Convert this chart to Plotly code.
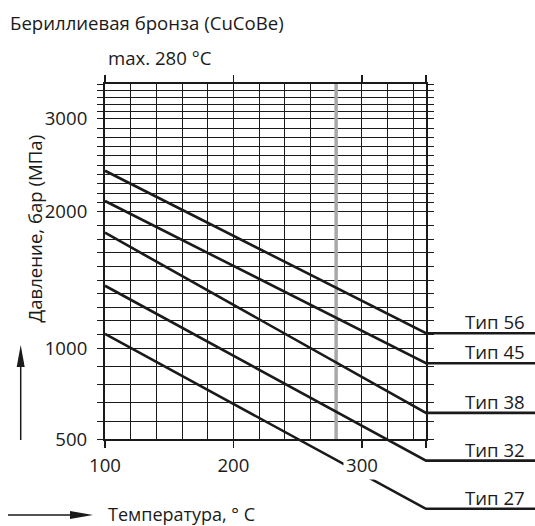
import numpy as np
import plotly.graph_objects as go

# ---------------- data ----------------
TYPES = ["Тип 56", "Тип 45", "Тип 38", "Тип 32", "Тип 27"]
TEMP_ENDS = [100, 350]                      # °C, ends of each straight line
P_AT_100 = [2440, 2115, 1846, 1458, 1105]   # bar at 100 °C
P_AT_350 = [1110, 918, 645, 383, 118]       # bar at 350 °C (32/27 run below the scale)
MAX_TEMP = 280

X_TICKS = [100, 200, 300]
X_MINOR = list(range(120, 350, 20))
Y_TICKS = [500, 1000, 2000, 3000]
Y_MINOR = (list(range(600, 1000, 100)) + list(range(1100, 2000, 100))
           + list(range(2100, 3000, 100)) + list(range(3100, 3600, 100)))

# printed pressure scale of the original chart (piecewise linear between labelled values)
SCALE_P = [500, 1000, 2000, 3000, 3500]
SCALE_U = [0.0, 91.0, 227.6, 320.6, 355.3]


def yscale(p):
    p = np.asarray(p, dtype=float)
    u = np.interp(p, SCALE_P, SCALE_U)
    slope0 = (SCALE_U[1] - SCALE_U[0]) / (SCALE_P[1] - SCALE_P[0])
    return np.where(p < SCALE_P[0], SCALE_U[0] + (p - SCALE_P[0]) * slope0, u)


# ---------------- geometry ----------------
W, H = 535, 526
PX_L, PX_R, PX_T, PX_B = 105, 426, 84, 439.3
INK = "#1a1a1a"
FONT = "Open Sans"
FS = 18.6

xr = [100, 350]
yr = [float(yscale(500)), float(yscale(3500))]
kx = (PX_R - PX_L) / (xr[1] - xr[0])
ky = (PX_B - PX_T) / (yr[1] - yr[0])
x2r = [xr[0] - PX_L / kx, xr[0] + (W - PX_L) / kx]
y2r = [yr[0] - (H - PX_B) / ky, yr[1] + PX_T / ky]


def px(x):
    return x / W


def py(y):
    return 1 - y / H


fig = go.Figure()

# max temperature line
fig.add_trace(go.Scatter(x=[MAX_TEMP, MAX_TEMP], y=yscale([500, 3500]), mode="lines",
                         line=dict(color="#a9a9a9", width=3.5), xaxis="x", yaxis="y",
                         showlegend=False, hoverinfo="skip"))

# type lines (drawn on a full-figure second subplot with the same scale, so they can leave the grid)
for name, p0, p1 in zip(TYPES, P_AT_100, P_AT_350):
    ys = yscale([p0, p1])
    fig.add_trace(go.Scatter(x=[TEMP_ENDS[0], TEMP_ENDS[1], x2r[1]],
                             y=[ys[0], ys[1], ys[1]], mode="lines",
                             line=dict(color=INK, width=2.6), xaxis="x2", yaxis="y2",
                             showlegend=False, name=name))

annotations = []
for name, p1 in zip(TYPES, P_AT_350):
    annotations.append(dict(x=px(527), xref="paper", xanchor="right",
                            y=float(yscale(p1)), yref="y2", yanchor="bottom", yshift=-3,
                            text=name, showarrow=False, font=dict(size=FS, color=INK, family=FONT)))

annotations += [
    dict(x=300, xref="x", y=py(464), yref="paper", yanchor="middle", text="300", showarrow=False,
         bgcolor="white", borderpad=2, font=dict(size=FS, color=INK, family=FONT)),
    dict(x=px(8), xref="paper", xanchor="left", y=py(22), yref="paper", yanchor="middle",
         text="Бериллиевая бронза (CuCoBe)", showarrow=False,
         font=dict(size=FS, color=INK, family=FONT)),
    dict(x=px(106), xref="paper", xanchor="left", y=py(58), yref="paper", yanchor="middle",
         text="max. 280 °C", showarrow=False, font=dict(size=FS, color=INK, family=FONT)),
    dict(x=px(19), xref="paper", y=py(229), yref="paper", yanchor="middle", textangle=-90,
         text="Давление, бар (МПа)", showarrow=False, font=dict(size=FS, color=INK, family=FONT)),
    dict(x=px(106), xref="paper", xanchor="left", y=py(514), yref="paper", yanchor="middle",
         text="Температура, ° C", showarrow=False, font=dict(size=18, color=INK, family=FONT)),
]

shapes = [
    # up arrow
    dict(type="line", xref="paper", yref="paper", x0=px(20.7), x1=px(20.7), y0=py(440), y1=py(362),
         line=dict(color=INK, width=1.5)),
    dict(type="path", xref="paper", yref="paper",
         path=f"M {px(20.7)},{py(345)} L {px(16.7)},{py(367)} L {px(24.7)},{py(367)} Z",
         fillcolor=INK, line=dict(width=0)),
    # right arrow
    dict(type="line", xref="paper", yref="paper", x0=px(8), x1=px(76), y0=py(515), y1=py(515),
         line=dict(color=INK, width=1.5)),
    dict(type="path", xref="paper", yref="paper",
         path=f"M {px(93)},{py(515)} L {px(70)},{py(511)} L {px(70)},{py(519)} Z",
         fillcolor=INK, line=dict(width=0)),
]

axis_font = dict(size=FS, color=INK, family=FONT)
fig.update_layout(
    width=W, height=H, margin=dict(l=0, r=0, t=0, b=0, pad=0),
    paper_bgcolor="white", plot_bgcolor="rgba(0,0,0,0)", template="none",
    showlegend=False,
    xaxis=dict(domain=[px(PX_L), px(PX_R)], range=xr, tickmode="array", anchor="y",
               tickvals=X_TICKS + [350], ticktext=[str(v) for v in X_TICKS[:2]] + ["", ""],
               ticks="outside", ticklen=7, tickwidth=1.5, tickcolor=INK,
               showline=True, linewidth=2, linecolor=INK, mirror="ticks",
               showgrid=True, gridcolor=INK, gridwidth=1.2, zeroline=False,
               minor=dict(tickmode="array", tickvals=X_MINOR, showgrid=True, gridcolor=INK,
                          gridwidth=1, ticks=""),
               tickfont=axis_font, ticklabelstandoff=1, automargin=False, fixedrange=True),
    yaxis=dict(domain=[py(PX_B), py(PX_T)], range=yr, tickmode="array", anchor="x",
               tickvals=[float(v) for v in yscale(Y_TICKS)], ticktext=[str(v) for v in Y_TICKS],
               ticks="outside", ticklen=6, tickwidth=1.2, tickcolor=INK,
               showline=True, linewidth=2, linecolor=INK, mirror="ticks",
               showgrid=True, gridcolor=INK, gridwidth=1.4, zeroline=False,
               minor=dict(tickmode="array", tickvals=[float(v) for v in yscale(Y_MINOR)],
                          showgrid=True, gridcolor=INK, gridwidth=1, ticks="outside",
                          ticklen=6, tickwidth=1, tickcolor=INK),
               tickfont=axis_font, ticklabelstandoff=6, automargin=False, fixedrange=True),
    xaxis2=dict(domain=[0, 1], range=x2r, anchor="y2", visible=False, fixedrange=True),
    yaxis2=dict(domain=[0, 1], range=y2r, anchor="x2", visible=False, fixedrange=True),
    annotations=annotations, shapes=shapes,
)

fig.write_html("out.html", config={"displayModeBar": False, "staticPlot": True},
               post_script="document.body.style.margin='0';document.body.style.overflow='hidden';")
